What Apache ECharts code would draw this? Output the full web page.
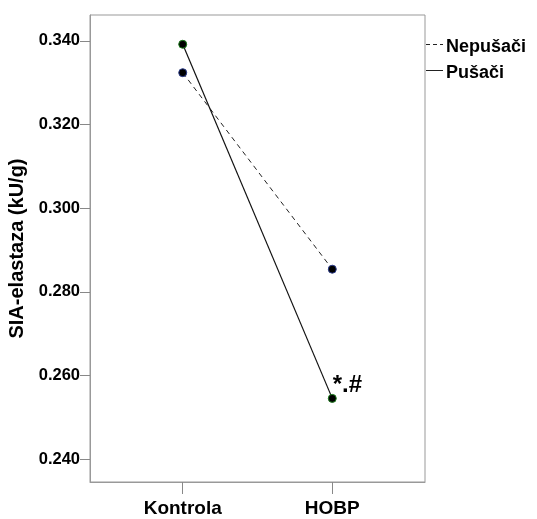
<!DOCTYPE html>
<html><head><meta charset="utf-8">
<script src="https://cdn.jsdelivr.net/npm/echarts@6/dist/echarts.min.js"></script>
<style>html,body{margin:0;padding:0;background:#fff}#c{width:537px;height:519px}</style>
</head><body><div id="c"></div>
<script>
const categories = ['Kontrola', 'HOBP'];
const pusaci = [0.3392, 0.2545];
const nepusaci = [0.3324, 0.2854];
const yTicks = [0.24, 0.26, 0.28, 0.30, 0.32, 0.34];
const annotation = '*.#';

const chart = echarts.init(document.getElementById('c'));
const font = 'Liberation Sans, Arial, sans-serif';
chart.setOption({
  animation: false,
  grid: {left: 90, top: 15, right: 112, bottom: 37, show: true, borderColor: '#999', borderWidth: 1, containLabel: false, outerBoundsMode: 'none'},
  xAxis: {
    type: 'value', min: -0.62, max: 1.62,
    axisLine: {show: true, onZero: false, lineStyle: {color: '#999'}},
    axisTick: {show: true, length: 12, lineStyle: {color: '#888'}, customValues: [0, 1]},
    axisLabel: {customValues: [0, 1], formatter: v => categories[Math.round(v)], color: '#000', fontFamily: font, fontWeight: 'bold', fontSize: 19, margin: 17},
    splitLine: {show: false}
  },
  yAxis: {
    type: 'value', min: 0.2345, max: 0.3462,
    name: 'SIA-elastaza (kU/g)', nameLocation: 'middle', nameGap: 61, nameRotate: 90,
    nameTextStyle: {color: '#000', fontFamily: font, fontWeight: 'bold', fontSize: 20},
    axisLine: {show: true, onZero: false, lineStyle: {color: '#999'}},
    axisTick: {show: true, length: 10, lineStyle: {color: '#888'}, customValues: yTicks},
    axisLabel: {customValues: yTicks, formatter: v => v.toFixed(3), color: '#000', fontFamily: font, fontWeight: 'bold', fontSize: 16.5, margin: 10},
    splitLine: {show: false}
  },
  series: [
    {
      name: 'Nepušači', type: 'line',
      data: nepusaci.map((v, i) => [i, v]),
      lineStyle: {color: '#222', width: 1, type: [5, 4]},
      symbol: 'circle', symbolSize: 8,
      itemStyle: {color: '#000', borderColor: '#2a3a8a', borderWidth: 1}
    },
    {
      name: 'Pušači', type: 'line',
      data: pusaci.map((v, i) => ({value: [i, v], label: i === 1 ? {show: true, formatter: annotation, position: 'right', offset: [-9, -13], color: '#000', fontFamily: font, fontWeight: 'bold', fontSize: 24} : {show: false}})),
      lineStyle: {color: '#111', width: 1.2},
      symbol: 'circle', symbolSize: 8,
      itemStyle: {color: '#000', borderColor: '#1a7a1a', borderWidth: 1}
    }
  ],
  graphic: [
    {type: 'line', shape: {x1: 426, y1: 44.5, x2: 443, y2: 44.5}, style: {stroke: '#222', lineWidth: 1, lineDash: [4, 3]}},
    {type: 'text', x: 446, y: 47, style: {text: 'Nepušači', fill: '#000', font: 'bold 18px ' + font, textVerticalAlign: 'middle'}},
    {type: 'line', shape: {x1: 426, y1: 70.5, x2: 443, y2: 70.5}, style: {stroke: '#222', lineWidth: 1}},
    {type: 'text', x: 446, y: 73, style: {text: 'Pušači', fill: '#000', font: 'bold 18px ' + font, textVerticalAlign: 'middle'}}
  ]
});
</script></body></html>
